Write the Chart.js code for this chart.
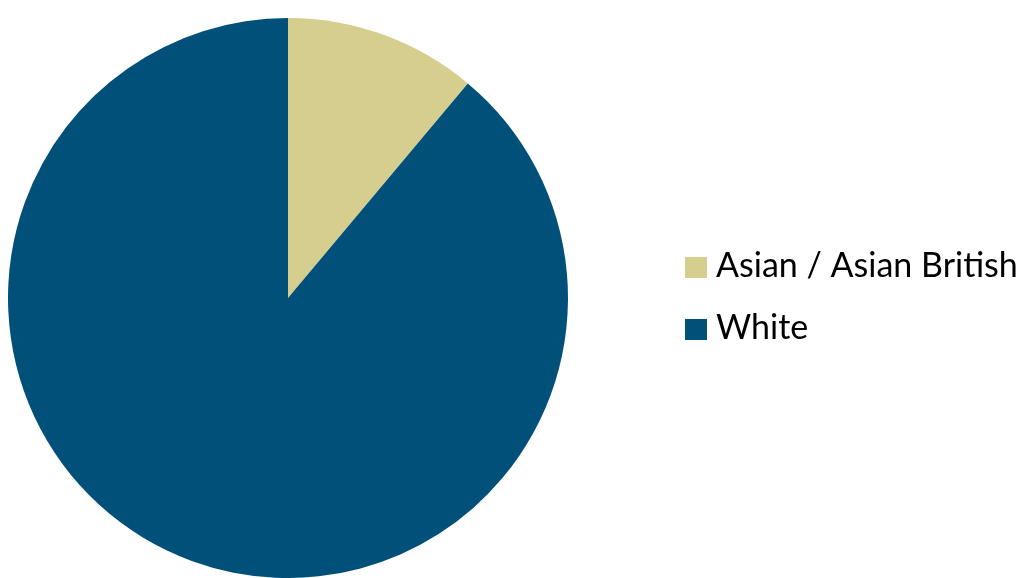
<!DOCTYPE html>
<html>
<head>
<meta charset="utf-8">
<script src="https://cdn.jsdelivr.net/npm/chart.js@4"></script>
<style>
  html, body { margin: 0; padding: 0; background: #fff; }
  #wrap { width: 1028px; height: 578px; position: relative; }
</style>
</head>
<body>
<div id="wrap"><canvas id="pie"></canvas></div>
<script>
const labels = ["Asian / Asian British", "White"];
const values = [11.1, 88.9];
const colours = ["#d6ce8e", "#00507a"];

// legend drawn at the right, next to the pie
const sideLegend = {
  id: "sideLegend",
  afterDraw(chart) {
    const ctx = chart.ctx;
    ctx.save();
    ctx.font = "34px Lato";
    ctx.textBaseline = "alphabetic";
    chart.data.labels.forEach((lab, i) => {
      const y = 257 + i * 62;
      ctx.fillStyle = chart.data.datasets[0].backgroundColor[i];
      ctx.fillRect(685, y, 22, 21);
      ctx.fillStyle = "#000";
      ctx.fillText(lab, 716, y + 20);
    });
    ctx.restore();
  }
};

new Chart(document.getElementById("pie"), {
  type: "pie",
  data: {
    labels: labels,
    datasets: [{
      data: values,
      backgroundColor: colours,
      borderWidth: 0
    }]
  },
  options: {
    responsive: true,
    maintainAspectRatio: false,
    animation: false,
    layout: { padding: { left: 8, top: 18, right: 460, bottom: 0 } },
    plugins: {
      legend: { display: false },
      tooltip: { enabled: false }
    }
  },
  plugins: [sideLegend]
});
</script>
</body>
</html>
